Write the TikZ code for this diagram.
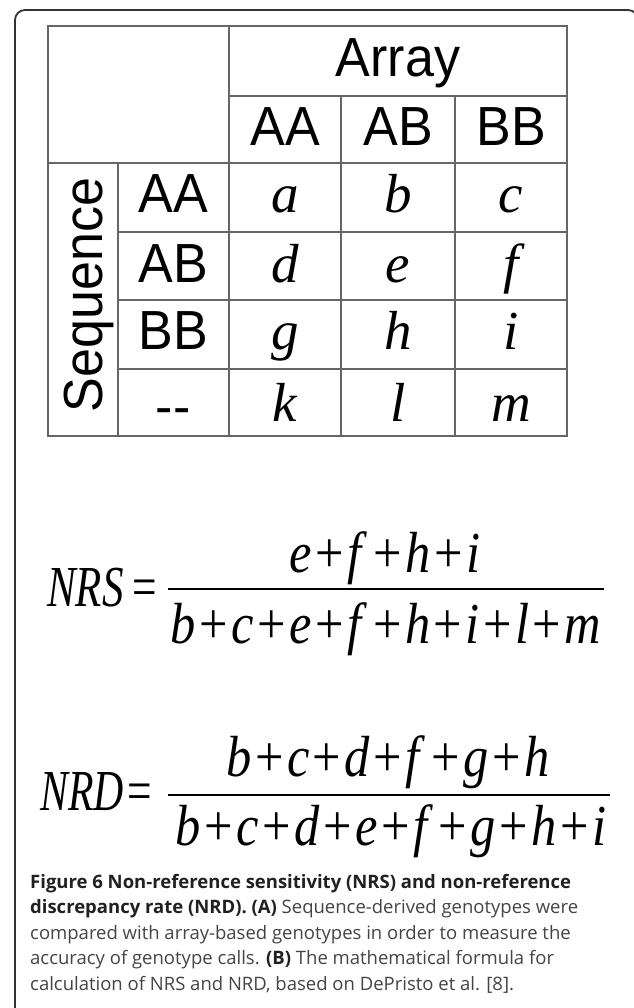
\documentclass[tikz,border=0pt]{standalone}
\usepackage{fontspec}
\usepackage{graphicx}
\setmainfont{Open Sans}
\newfontfamily\tabfont{Liberation Sans}
\newfontfamily\serfont{Liberation Serif}
\newfontfamily\capfont{Open Sans}
\definecolor{framecol}{HTML}{333333}
\definecolor{gridcol}{HTML}{666666}
\definecolor{capbold}{HTML}{231F20}
\definecolor{capreg}{HTML}{444444}
\newcommand\iv[1]{\textit{#1}}
\newcommand\pl{\hspace{0.07em}+\hspace{0.07em}}
\newcommand\fpl{\hspace{0.12em}+\hspace{0.07em}}
\newcommand\fmla[2]{{\serfont\fontsize{58}{60}\selectfont\scalebox{#1}[1]{#2}}}
\begin{document}
\begin{tikzpicture}[x=1pt,y=-1pt,
  grid/.style={draw=gridcol,line width=1.2pt},
  hd/.style={font=\tabfont\fontsize{52}{54}\selectfont,anchor=base,inner sep=0pt},
  cell/.style={font=\serfont\itshape\fontsize{55}{56}\selectfont,anchor=base,inner sep=0pt},
  frm/.style={inner sep=0pt,anchor=base},
  capline/.style={font=\capfont\fontsize{18.5}{20}\selectfont,anchor=base west,inner sep=0pt,color=capreg}]
\useasboundingbox (0,0) rectangle (633,1008);
% outer frame
\draw[framecol,line width=1.8pt,rounded corners=10pt] (15,1030) -- (15,10) -- (638,10) -- (638,1030);
% table grid
\draw[grid] (48,26) rectangle (567,436);
\draw[grid] (229,96) -- (567,96);
\draw[grid] (48,163) -- (567,163);
\foreach \yy in {232,300,369} \draw[grid] (118,\yy) -- (567,\yy);
\draw[grid] (229,26) -- (229,436);
\draw[grid] (118,163) -- (118,436);
\foreach \xx in {341,455} \draw[grid] (\xx,96) -- (\xx,436);
% headers
\node[hd] (array) at (398,77) {\scalebox{1}[1.06]{Array}};
\node[hd] (cAA) at (285,146) {\scalebox{1}[1.06]{AA}};
\node[hd] (cAB) at (398,146) {\scalebox{1}[1.06]{AB}};
\node[hd] (cBB) at (511,146) {\scalebox{1}[1.06]{BB}};
\node[hd,rotate=90] (seq) at (102,295) {\scalebox{1}[1.06]{Sequence}};
\node[hd] (rAA) at (173,213) {\scalebox{1}[1.06]{AA}};
\node[hd] (rAB) at (173,282) {\scalebox{1}[1.06]{AB}};
\node[hd] (rBB) at (173,349) {\scalebox{1}[1.06]{BB}};
\node[hd] (rnone) at (173,424) {--};
% cells
\node[cell] (a) at (285,213) {a};
\node[cell] (b) at (398,213) {b};
\node[cell] (c) at (511,213) {c};
\node[cell] (d) at (285,282) {d};
\node[cell] (e) at (398,282) {e};
\node[cell] (f) at (511,282) {f};
\node[cell] (g) at (285,349) {g};
\node[cell] (h) at (398,349) {h};
\node[cell] (i) at (511,349) {i};
\node[cell] (k) at (285,421) {k};
\node[cell] (l) at (398,421) {l};
\node[cell] (m) at (511,421) {m};
% NRS formula
\node[frm,anchor=base west] (nrs) at (47,606) {\fmla{0.74}{\iv{NRS}}};
\node[frm] (nrseq) at (145,606) {\fmla{0.75}{=}};
\draw[line width=2.6pt] (168,589) -- (604,589);
\node[frm] (nrsnum) at (385,572) {\fmla{0.87}{\iv{e}\pl\iv{f}\fpl\iv{h}\pl\iv{i}}};
\node[frm] (nrsden) at (386,643) {\fmla{0.87}{\iv{b}\pl\iv{c}\pl\iv{e}\pl\iv{f}\fpl\iv{h}\pl\iv{i}\pl\iv{l}\pl\iv{m}}};
% NRD formula
\node[frm,anchor=base west] (nrd) at (40,810) {\fmla{0.72}{\iv{NRD}}};
\node[frm] (nrdeq) at (140,810) {\fmla{0.75}{=}};
\draw[line width=2.6pt] (168,795) -- (610,795);
\node[frm] (nrdnum) at (388,776) {\fmla{0.87}{\iv{b}\pl\iv{c}\pl\iv{d}\pl\iv{f}\fpl\iv{g}\pl\iv{h}}};
\node[frm] (nrdden) at (391,845) {\fmla{0.87}{\iv{b}\pl\iv{c}\pl\iv{d}\pl\iv{e}\pl\iv{f}\fpl\iv{g}\pl\iv{h}\pl\iv{i}}};
% caption
\node[capline] (cap1) at (30,888) {\textcolor{capbold}{\bfseries Figure 6 Non-reference sensitivity (NRS) and non-reference}};
\node[capline] (cap2) at (30,913.5) {\textcolor{capbold}{\bfseries discrepancy rate (NRD). (A)} Sequence-derived genotypes were};
\node[capline] (cap3) at (30,939) {compared with array-based genotypes in order to measure the};
\node[capline] (cap4) at (30,964.5) {accuracy of genotype calls. \textcolor{capbold}{\bfseries (B)} The mathematical formula for};
\node[capline] (cap5) at (30,990) {calculation of NRS and NRD, based on DePristo et al. [8].};
\end{tikzpicture}
\end{document}
